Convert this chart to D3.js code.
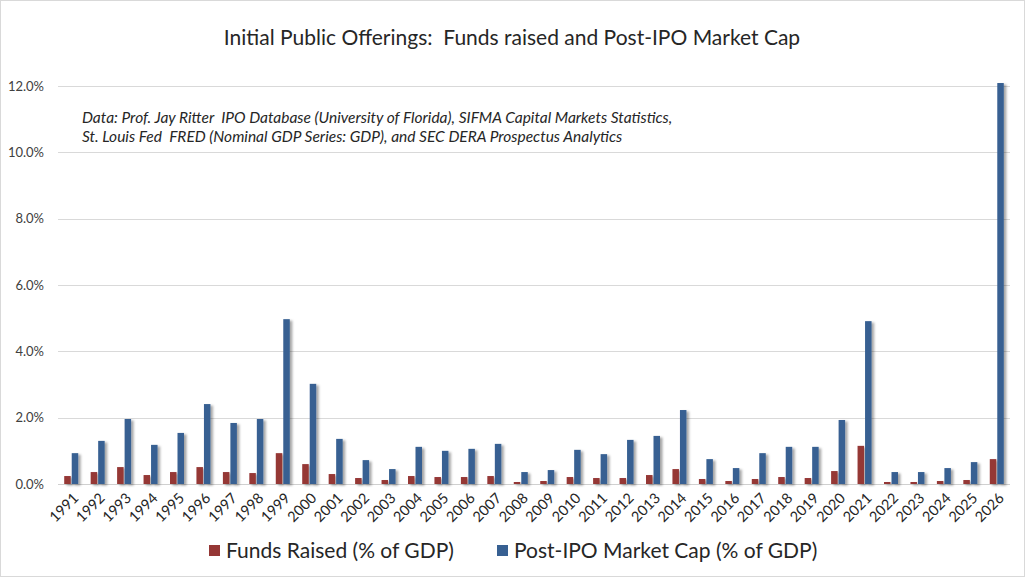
<!DOCTYPE html>
<html><head><meta charset="utf-8">
<script src="https://cdn.jsdelivr.net/npm/d3@7"></script>
<style>body{margin:0;background:#fff}svg{display:block;font-family:Lato,"Open Sans",sans-serif}</style>
</head><body><svg id="c" width="1025" height="577"></svg>
<script>
const years = ["1991","1992","1993","1994","1995","1996","1997","1998","1999","2000","2001","2002","2003","2004","2005","2006","2007","2008","2009","2010","2011","2012","2013","2014","2015","2016","2017","2018","2019","2020","2021","2022","2023","2024","2025","2026"];
const fundsRaised = [0.24,0.36,0.51,0.27,0.36,0.51,0.36,0.33,0.93,0.60,0.30,0.18,0.12,0.24,0.21,0.21,0.24,0.06,0.09,0.21,0.18,0.18,0.27,0.45,0.15,0.09,0.15,0.21,0.18,0.39,1.15,0.06,0.06,0.09,0.12,0.75];
const marketCap = [0.93,1.30,1.96,1.18,1.54,2.41,1.84,1.96,4.97,3.02,1.36,0.72,0.45,1.12,1.00,1.06,1.21,0.36,0.42,1.03,0.90,1.33,1.45,2.23,0.75,0.48,0.93,1.12,1.12,1.93,4.91,0.36,0.36,0.48,0.66,12.09];
const yTicks = [0,2,4,6,8,10,12];
const seriesNames = ["Funds Raised (% of GDP)","Post-IPO Market Cap (% of GDP)"];
const colors = ["#953735","#376092"];
const titleText = "Initial Public Offerings:  Funds raised and Post-IPO Market Cap";
const noteLines = ["Data: Prof. Jay Ritter  IPO Database (University of Florida), SIFMA Capital Markets Statistics,","St. Louis Fed  FRED (Nominal GDP Series: GDP), and SEC DERA Prospectus Analytics"];

const svg = d3.select("#c");
svg.append("rect").attr("x",0.5).attr("y",0.5).attr("width",1024).attr("height",576).attr("fill","#fff").attr("stroke","#d9d9d9");

const defs = svg.append("defs");
const f = defs.append("filter").attr("id","sh").attr("x","-50%").attr("y","-10%").attr("width","250%").attr("height","120%");
f.append("feDropShadow").attr("dx",2.5).attr("dy",1.5).attr("stdDeviation",1.2).attr("flood-color","#000").attr("flood-opacity",0.35);

const L=58, R=1010, T=86, B=484;
const x = d3.scaleBand().domain(years).range([L,R]).paddingInner(0).paddingOuter(0);
const y = d3.scaleLinear().domain([0,12]).range([B,T]);

svg.append("g").selectAll("line").data(yTicks).join("line")
  .attr("x1",L).attr("x2",R).attr("y1",d=>Math.round(y(d))+0.5).attr("y2",d=>Math.round(y(d))+0.5)
  .attr("stroke",d=>d===0?"#d0d0d0":"#d9d9d9").attr("stroke-width",1);

const ya = svg.append("g").attr("transform",`translate(${L-10},0)`)
  .call(d3.axisLeft(y).tickValues(yTicks).tickSize(0).tickFormat(d=>d.toFixed(1)+"%"));
ya.select(".domain").remove();
ya.selectAll("text").attr("font-size",13).attr("fill","#404040").attr("font-family","Lato").attr("dx",-1);

const bw = 6.5;
const g = svg.append("g").attr("filter","url(#sh)");
[fundsRaised, marketCap].forEach((arr,si)=>{
  g.append("g").selectAll("rect").data(arr).join("rect")
    .attr("x",(d,i)=>x(years[i])+x.bandwidth()/2 + (si===0? -bw-0.5 : 0.5))
    .attr("width",bw)
    .attr("y",d=>y(d)).attr("height",d=>B-y(d))
    .attr("fill",colors[si]);
});

const xa = svg.append("g").attr("transform",`translate(0,${B})`)
  .call(d3.axisBottom(x).tickSize(0));
xa.select(".domain").remove();
xa.selectAll("text").attr("font-size",14.5).attr("fill","#262626").attr("font-family","Lato")
  .attr("text-anchor","end").attr("dy",0)
  .attr("transform","translate(6,13) rotate(-45)");

svg.append("text").attr("x",512).attr("y",45).attr("text-anchor","middle")
  .attr("font-size",21).attr("fill","#262626").style("white-space","pre").text(titleText);

svg.append("g").selectAll("text").data(noteLines).join("text")
  .attr("x",82).attr("y",(d,i)=>123+i*19).attr("font-size",15.5).attr("font-style","italic")
  .attr("fill","#262626").style("white-space","pre").text(d=>d);

const leg = svg.append("g");
const lx = [209, 497];
seriesNames.forEach((n,i)=>{
  leg.append("rect").attr("x",lx[i]).attr("y",545).attr("width",11).attr("height",11).attr("fill",colors[i]);
  leg.append("text").attr("x",lx[i]+17).attr("y",558).attr("font-size",21).attr("fill","#262626").text(n);
});
</script></body></html>
